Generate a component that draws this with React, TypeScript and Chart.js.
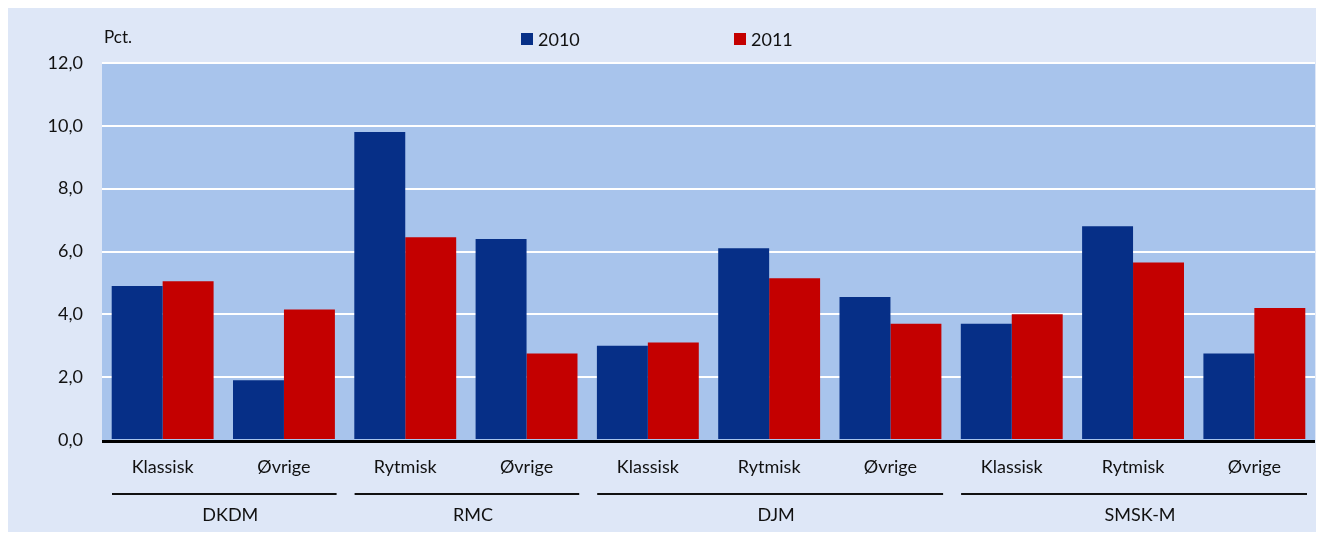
import React, { useEffect, useRef } from 'react';
import { Chart, registerables } from 'chart.js';

Chart.register(...registerables);

const categories = ['Klassisk', 'Øvrige', 'Rytmisk', 'Øvrige', 'Klassisk', 'Rytmisk', 'Øvrige', 'Klassisk', 'Rytmisk', 'Øvrige'];
const groups = ['DKDM', 'RMC', 'DJM', 'SMSK-M'];
const groupStart = [0, 2, 4, 7];
const groupEnd = [1, 3, 6, 9];
const seriesLabels = ['2010', '2011'];
const series2010 = [4.9, 1.9, 9.8, 6.4, 3.0, 6.1, 4.55, 3.7, 6.8, 2.75];
const series2011 = [5.05, 4.15, 6.45, 2.75, 3.1, 5.15, 3.7, 4.0, 5.65, 4.2];
const yMin = 0;
const yMax = 12;
const yStep = 2;
const unitLabel = 'Pct.';

const BLUE = '#062F87';
const RED = '#C40000';
const PLOT_BG = '#A8C4EC';
const PANEL_BG = '#DEE7F7';
const TEXT = '#111111';
const FONT = 'Lato, "Open Sans", sans-serif';

const decor = {
  id: 'decor',
  beforeDraw(chart: any) {
    const { ctx, chartArea: a } = chart;
    ctx.save();
    ctx.fillStyle = PLOT_BG;
    ctx.fillRect(a.left, a.top, a.right - a.left, a.bottom - a.top);
    ctx.restore();
  },
  afterDatasetsDraw(chart: any) {
    const { ctx, chartArea: a } = chart;
    ctx.save();
    ctx.fillStyle = '#000000';
    ctx.fillRect(a.left, a.bottom, a.right - a.left, 3);
    ctx.restore();
  },
  afterDraw(chart: any) {
    const { ctx, chartArea: a } = chart;
    const xs = chart.scales.x;
    const half = (xs.getPixelForValue(1) - xs.getPixelForValue(0)) / 2;
    ctx.save();
    // group underlines and labels
    ctx.font = `18px ${FONT}`;
    ctx.fillStyle = TEXT;
    ctx.textAlign = 'center';
    ctx.textBaseline = 'middle';
    groups.forEach((g, i) => {
      const x0 = xs.getPixelForValue(groupStart[i]) - half + 10;
      const x1 = xs.getPixelForValue(groupEnd[i]) + half - 8;
      ctx.fillRect(x0, a.bottom + 53, x1 - x0, 2);
      ctx.fillText(g, (x0 + x1) / 2 + 6, a.bottom + 75);
    });
    // unit label
    ctx.textAlign = 'left';
    ctx.font = `17px ${FONT}`;
    ctx.fillText(unitLabel, a.left + 2, a.top - 25);
    // legend
    ctx.font = `18px ${FONT}`;
    const legendX = [a.left + 419, a.left + 632];
    const colors = [BLUE, RED];
    seriesLabels.forEach((s, i) => {
      ctx.fillStyle = colors[i];
      ctx.fillRect(legendX[i], a.top - 30, 12, 12);
      ctx.fillStyle = TEXT;
      ctx.fillText(s, legendX[i] + 17, a.top - 23);
    });
    ctx.restore();
  },
};

export default function App() {
  const ref = useRef<HTMLCanvasElement>(null);
  useEffect(() => {
    if (!ref.current) return;
    const chart = new Chart(ref.current, {
      type: 'bar',
      data: {
        labels: categories,
        datasets: [
          { label: seriesLabels[0], data: series2010, backgroundColor: BLUE, borderWidth: 0 },
          { label: seriesLabels[1], data: series2011, backgroundColor: RED, borderWidth: 0 },
        ],
      },
      options: {
        animation: false,
        responsive: true,
        maintainAspectRatio: false,
        datasets: { bar: { categoryPercentage: 0.84, barPercentage: 1 } },
        layout: { padding: { top: 55, right: 9, left: 0, bottom: 0 } },
        plugins: { legend: { display: false }, tooltip: { enabled: false } },
        scales: {
          x: {
            grid: { display: false, drawTicks: false },
            border: { display: false },
            ticks: { color: TEXT, font: { family: FONT, size: 18 }, padding: 16, maxRotation: 0 },
            afterFit: (s: any) => { s.height = 92; },
          },
          y: {
            min: yMin,
            max: yMax,
            grid: {
              color: (c: any) => (c.tick && c.tick.value === 0 ? 'rgba(0,0,0,0)' : '#FFFFFF'),
              lineWidth: 2,
              drawTicks: false,
            },
            border: { display: false },
            ticks: {
              stepSize: yStep,
              color: TEXT,
              font: { family: FONT, size: 18 },
              padding: 19,
              callback: (v: any) => Number(v).toFixed(1).replace('.', ','),
            },
            afterFit: (s: any) => { s.width = 94; },
          },
        },
      },
      plugins: [decor],
    });
    return () => chart.destroy();
  }, []);
  return (
    <div style={{ width: 1316, height: 524, background: PANEL_BG, position: 'relative' }}>
      <canvas ref={ref} />
    </div>
  );
}
